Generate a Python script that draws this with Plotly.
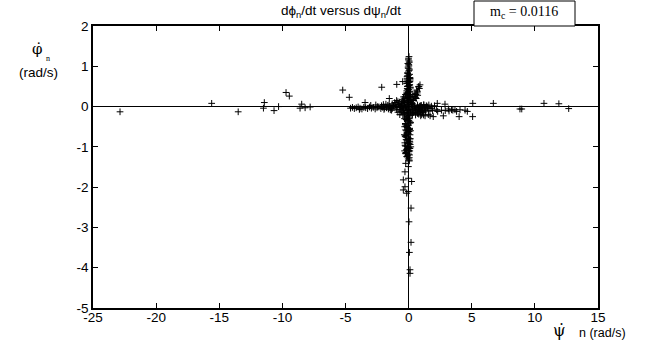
import plotly.graph_objects as go

# ---------------- data ----------------
# isolated points, psi_dot (x) and phi_dot (y), rad/s
outlier_x = [-22.86, -15.6, -13.5, -11.43, -11.5, -10.66, -10.3, -9.71, -9.45, -8.47, -8.6, -8.2, -7.8,
             -5.22, -4.7, -3.45, -2.13, -1.53, -0.94, -0.47,
             2.27, 2.88, 5.08, 6.71, 8.82, 8.96, 10.72, 11.9, 12.68,
             2.75, 4.0, 5.07, 2.22, 3.15, 3.4, 3.67, 4.07, 4.47, 4.65, 0.96, 1.3, 1.7, 1.95]
outlier_y = [-0.13, 0.08, -0.13, 0.1, -0.04, -0.1, 0.0, 0.35, 0.26, 0.06, -0.04, -0.03, -0.01,
             0.41, 0.23, 0.1, 0.48, 0.2, 0.55, 0.62,
             0.08, 0.06, 0.08, 0.08, -0.06, -0.06, 0.08, 0.07, -0.05,
             -0.23, -0.25, -0.25, -0.08, -0.06, -0.08, -0.08, -0.08, -0.09, -0.12, -0.23, -0.23, -0.23, -0.25]

# rising arm above the core
arm_x = [0.45, 0.51, 0.58, 0.64, 0.7, 0.77, 0.85, 0.9, 0.6, 0.72, 0.4, 0.55, 0.68, 0.82]
arm_y = [0.25, 0.33, 0.3, 0.41, 0.38, 0.49, 0.45, 0.54, 0.2, 0.28, 0.15, 0.22, 0.34, 0.5]

# horizontal band along phi_dot ~ 0
hband_x = [-4.6, -4.45, -4.3, -4.15, -4.0, -3.85, -3.7, -3.55, -3.4, -3.25, -3.1, -2.95, -2.8,
           -2.65, -2.5, -2.35, -2.2, -2.05, -1.9, -1.75, -1.6, -1.5, -1.4, -1.3, -1.2,
           -3.9, -3.0, -2.6, -2.0, -1.8, -1.65, -1.45, -2.45, -2.15, -1.95, -1.55, -1.35,
           0.9, 1.1, 1.35, 1.6, 1.9, 2.3, 2.6, 2.9, 3.2, 3.5, 3.8,
           1.0, 1.2, 1.4, 1.6, 1.8, 1.17, 1.56, 2.05, 1.7, 1.85]
hband_y = [-0.04, -0.02, -0.05, -0.03, -0.01, -0.04, -0.06, -0.02, -0.03, -0.05, -0.01, -0.04, -0.02,
           -0.06, -0.03, -0.01, -0.05, -0.02, -0.04, -0.03, -0.06, 0.01, -0.02, -0.05, 0.02,
           -0.07, 0.03, 0.04, 0.05, 0.06, 0.03, -0.08, 0.0, 0.02, -0.07, 0.04, -0.09,
           -0.1, -0.12, -0.09, -0.11, -0.1, -0.12, -0.09, -0.1, -0.11, -0.09, -0.12,
           0.03, 0.05, 0.02, 0.04, 0.01, -0.21, -0.2, 0.02, -0.05, -0.04]

# dense core around the origin
core_x = [-1.05, -0.8, -0.55, -0.3, -0.05, 0.2, 0.45, 0.7, 0.95, 1.2, 1.45,
          -1.0, -0.75, -0.5, -0.25, 0.0, 0.25, 0.5, 0.75, 1.0, 1.25, 1.5,
          -0.95, -0.7, -0.45, -0.2, 0.05, 0.3, 0.55, 0.8, 1.05, 1.3,
          -0.85, -0.6, -0.35, -0.1, 0.15, 0.4, 0.65, 0.9, 1.15,
          -0.7, -0.45, -0.2, 0.05, 0.3, 0.55, 0.8, 1.0,
          -0.55, -0.4, -0.3, -0.2, -0.1, -0.35, 0.15, 0.25, 0.3, -0.5, 0.1, -0.15, 0.35, -0.25,
          -0.9, -0.65, -0.4, -0.15, 0.1, 0.35, 0.6, 0.85, 1.1, 1.35,
          -0.6, -0.35, -0.1, 0.2, 0.45, 0.7, 0.95,
          -0.45, -0.05, 0.22, -0.28, 0.0, -0.4, 0.12,
          -1.3, -1.1, -0.85, -0.7, -1.2, -0.95]
core_y = [0.04, 0.05, 0.03, 0.06, 0.04, 0.05, 0.03, 0.04, 0.02, 0.03, 0.01,
          -0.02, -0.01, -0.03, -0.02, 0.0, -0.01, -0.03, -0.02, -0.01, -0.03, -0.02,
          -0.08, -0.07, -0.09, -0.08, -0.07, -0.09, -0.08, -0.07, -0.09, -0.08,
          -0.14, -0.13, -0.15, -0.14, -0.13, -0.15, -0.14, -0.13, -0.15,
          -0.2, -0.21, -0.19, -0.22, -0.2, -0.21, -0.19, -0.2,
          0.08, 0.14, 0.2, 0.26, 0.32, 0.1, 0.12, 0.18, 0.08, 0.18, 0.22, 0.16, 0.25, 0.3,
          0.01, 0.0, -0.05, 0.02, -0.04, 0.0, -0.05, 0.01, -0.05, -0.11,
          -0.11, -0.17, -0.1, -0.17, -0.11, -0.17, -0.12,
          0.12, 0.1, 0.06, 0.04, 0.14, 0.24, 0.28,
          0.07, 0.1, 0.12, 0.09, 0.03, 0.15]

# vertical band along psi_dot ~ 0
vband_x = [0.03, -0.02, 0.05, 0.01, -0.04, 0.06, 0.0, -0.08, 0.08, -0.1, 0.1, -0.12, 0.12,
           -0.06, 0.04, -0.14, 0.09, -0.05, 0.13, -0.11, 0.02, -0.15, 0.11, -0.09, 0.07,
           -0.22, 0.06, -0.12, 0.1, -0.26, 0.0, -0.18, 0.08, -0.24, 0.04, -0.14, 0.11, -0.27,
           -0.02, -0.2, 0.07, -0.1, 0.12, -0.25, 0.03, -0.16, 0.09, -0.21, 0.01, -0.08, 0.05,
           0.02, -0.2, -0.05, 0.1, -0.26, -0.1, 0.06, -0.17, 0.0, -0.23, 0.08, -0.13, 0.04,
           -0.28, -0.06, 0.1, -0.19, 0.02, -0.24, 0.07, -0.11, -0.03, 0.05, -0.15,
           -0.23, -0.02, -0.29, -0.02, -0.42, 0.24, -0.29, -0.42, -0.02, -0.15,
           0.19, 0.03, 0.19, 0.06, 0.11, 0.11,
           -0.01, 0.04, -0.06, 0.02, -0.03, 0.05, -0.07, 0.0, 0.06, -0.04, 0.03,
           -0.1, 0.02, -0.16, 0.07, -0.06, -0.2, 0.1, -0.12, 0.0, -0.22, 0.05,
           -0.12, 0.12, -0.08, 0.1, -0.14, 0.06, -0.1, 0.14, -0.06, 0.11, -0.15, 0.08, -0.11, 0.13,
           -0.09, 0.1, -0.33, 0.16, -0.31, 0.15, -0.34, 0.14, -0.3, 0.17, -0.32]
vband_y = [1.24, 1.16, 1.1, 1.04, 0.98, 0.93, 0.88, 0.84, 0.8, 0.76, 0.72, 0.69, 0.66,
           0.63, 0.6, 0.57, 0.54, 0.51, 0.48, 0.45, 0.42, 0.39, 0.36, 0.33, 0.3,
           -0.26, -0.3, -0.34, -0.38, -0.42, -0.46, -0.5, -0.54, -0.58, -0.62, -0.66, -0.7, -0.74,
           -0.78, -0.82, -0.86, -0.9, -0.94, -0.98, -1.02, -1.06, -1.1, -1.14, -1.18, -1.22, -1.27,
           -0.28, -0.32, -0.36, -0.41, -0.45, -0.52, -0.57, -0.6, -0.68, -0.72, -0.8, -0.85, -0.92,
           -0.96, -1.0, -1.04, -1.08, -1.12, -1.16, -1.2, -1.25, -1.3, -1.33, -1.24,
           -1.41, -1.49, -1.62, -1.78, -1.82, -1.86, -1.99, -2.07, -2.11, -2.15,
           -2.52, -2.86, -3.37, -3.62, -4.05, -4.14,
           1.2, 1.13, 1.07, 1.01, 0.95, 0.9, 0.82, 0.78, 0.7, 0.61, 0.52,
           -0.24, -0.35, -0.48, -0.56, -0.64, -0.76, -0.88, -0.99, -1.09, -1.17, -1.35,
           0.74, 0.7, 0.66, 0.62, 0.58, 0.54, 0.5, 0.46, 0.42, 0.38, 0.34, 0.26, 0.22, 0.18,
           0.14, 0.1, -0.3, -0.4, -0.5, -0.6, -0.7, -0.8, -0.9, -1.0, -1.1]

xs = outlier_x + arm_x + hband_x + core_x + vband_x
ys = outlier_y + arm_y + hband_y + core_y + vband_y

x_ticks = [-25, -20, -15, -10, -5, 0, 5, 10, 15]
y_ticks = [-5, -4, -3, -2, -1, 0, 1, 2]

# ---------------- figure ----------------
L, R, T, B = 93, 598, 26, 308
W, H = 651, 354


def px(xp):
    return (xp - L) / (R - L)


def py(yp):
    return (B - yp) / (B - T)


fig = go.Figure()
fig.add_trace(go.Scatter(
    x=xs, y=ys, mode="markers",
    marker=dict(symbol="cross-thin", size=4.8, color="black",
                line=dict(color="black", width=1)),
    showlegend=False, hoverinfo="skip"))

axis_common = dict(showline=True, linecolor="black", linewidth=1.5, mirror="ticks",
                   ticks="inside", ticklen=5, tickcolor="black", tickwidth=1,
                   showgrid=False, zeroline=True, zerolinecolor="black", zerolinewidth=1,
                   tickfont=dict(family="Liberation Sans, Arial", size=13.5, color="black"))

fig.update_layout(
    width=W, height=H, autosize=False,
    margin=dict(l=L, r=W - R, t=T, b=H - B, pad=0),
    plot_bgcolor="white", paper_bgcolor="white",
    xaxis=dict(range=[-25, 15], tickvals=x_ticks, ticktext=[str(v) for v in x_ticks],
               ticklabelstandoff=-4, **axis_common),
    yaxis=dict(range=[-5, 2], tickvals=y_ticks, ticktext=[str(v) for v in y_ticks], **axis_common),
)

annotations = [
    dict(text="dϕ<sub>n</sub>/dt versus dψ<sub>n</sub>/dt", x=px(341), y=py(11),
         font=dict(family="Liberation Sans, Arial", size=13.5, color="black")),
    dict(text="m<sub>c</sub> = 0.0116", x=px(524), y=py(13),
         font=dict(family="Liberation Serif, Times New Roman", size=14, color="black")),
    dict(text="φ̇", x=px(37), y=py(49),
         font=dict(family="DejaVu Serif", size=15, color="black")),
    dict(text="n", x=px(48), y=py(58),
         font=dict(family="Liberation Serif", size=8, color="black")),
    dict(text="(rad/s)", x=px(38), y=py(72),
         font=dict(family="Liberation Sans, Arial", size=13.5, color="black")),
    dict(text="ψ̇", x=px(559), y=py(330),
         font=dict(family="DejaVu Serif", size=16, color="black")),
    dict(text="n (rad/s)", x=px(602), y=py(333),
         font=dict(family="Liberation Sans, Arial", size=12.5, color="black")),
]
for a in annotations:
    a.update(xref="paper", yref="paper", showarrow=False, xanchor="center", yanchor="middle")
    fig.add_annotation(**a)

fig.add_shape(type="rect", xref="paper", yref="paper",
              x0=px(474), x1=px(575), y0=py(26), y1=py(1),
              line=dict(color="black", width=1), fillcolor="white", layer="above")

fig.write_html("out.html", config={"displayModeBar": False},
               post_script="document.body.style.margin='0';")
